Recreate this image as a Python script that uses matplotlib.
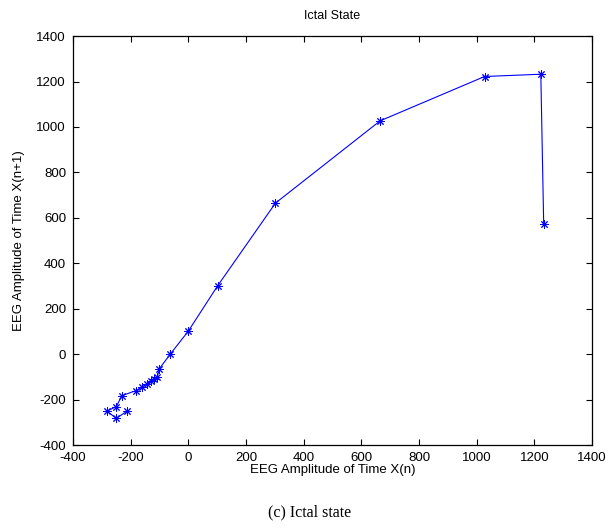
import matplotlib
matplotlib.use('Agg')
import matplotlib.pyplot as plt

# EEG samples during the ictal segment, x(n)
signal = [-212, -250, -282, -250, -230, -182, -160, -145, -130, -118,
          -108, -100, -63, 0, 102, 302, 665, 1027, 1222, 1232, 572]

x_now = signal[:-1]
x_next = signal[1:]

x_ticks = list(range(-400, 1401, 200))
y_ticks = list(range(-400, 1401, 200))

plt.rcParams['font.family'] = ['Liberation Sans', 'DejaVu Sans']
plt.rcParams['axes.unicode_minus'] = False

fig = plt.figure(figsize=(6.13, 5.30), dpi=100)
ax = fig.add_axes([0.119, 0.160, 0.847, 0.772])

ax.plot(x_now, x_next, color='#0000ff', linewidth=0.8,
        marker=(8, 2, 0), markersize=6, markeredgewidth=0.7)

ax.set_xlim(-400, 1400)
ax.set_ylim(-400, 1400)
ax.set_xticks(x_ticks)
ax.set_yticks(y_ticks)
ax.tick_params(direction='in', top=True, right=True, length=4,
               width=0.8, labelsize=9.5)
ax.tick_params(axis='x', pad=5)
ax.tick_params(axis='y', pad=5)
for s in ax.spines.values():
    s.set_linewidth(0.9)

ax.set_title('Ictal State', fontsize=9, pad=12)
ax.set_xlabel('EEG Amplitude of Time X(n)', fontsize=9.5, labelpad=0)
ax.set_ylabel('EEG Amplitude of Time X(n+1)', fontsize=9.5, labelpad=8)

fig.text(0.505, 0.034, '(c) Ictal state', ha='center', va='center',
         fontsize=11.5, family='Liberation Serif')

fig.savefig('out.png', dpi=100)
